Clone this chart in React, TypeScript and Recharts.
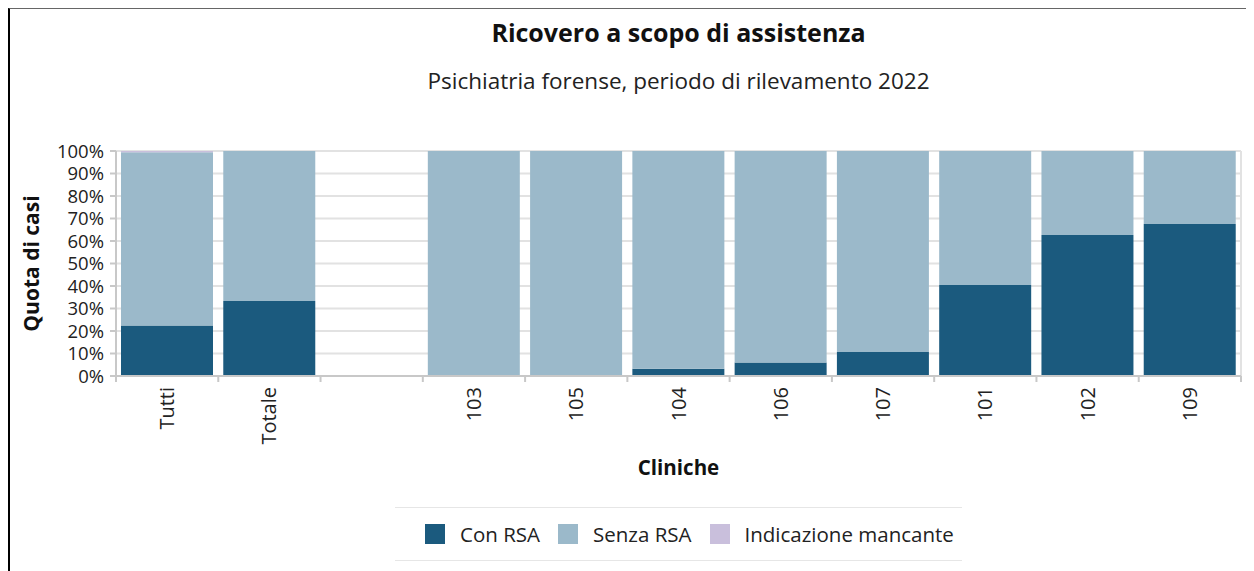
import { BarChart, Bar, XAxis, YAxis, CartesianGrid } from "recharts";

// categories as shown on the x axis (the empty one is a spacer column)
const cliniche = ["Tutti", "Totale", "", "103", "105", "104", "106", "107", "101", "102", "109"];
const conRsa = [22.5, 33.3, 0, 0, 0, 3.2, 6, 10.7, 40.4, 62.7, 67.6];
const senzaRsa = [77, 66.7, 0, 100, 100, 96.8, 94, 89.3, 59.6, 37.3, 32.4];
const mancante = [0.5, 0, 0, 0, 0, 0, 0, 0, 0, 0, 0];
const yTicks = [0, 10, 20, 30, 40, 50, 60, 70, 80, 90, 100];

const data = cliniche.map((name, i) => ({
  name,
  con: conRsa[i],
  senza: senzaRsa[i],
  mancante: mancante[i],
}));

const series = [
  { key: "con", label: "Con RSA", color: "#1b5a7e" },
  { key: "senza", label: "Senza RSA", color: "#9bb9ca" },
  { key: "mancante", label: "Indicazione mancante", color: "#c9bfdc" },
];

const FONT = "'Open Sans', 'Noto Sans', sans-serif";
const CHART_W = 1243;
const CHART_H = 553;
const MARGIN = { top: 142, right: 12, bottom: 76, left: 0 };
const Y_W = 106;
const plotW = CHART_W - MARGIN.left - MARGIN.right - Y_W;
const band = plotW / cliniche.length;

const ClinicTick = (props: any) => {
  const { x, y, payload, index } = props;
  const last = index === cliniche.length - 1;
  return (
    <g>
      <line x1={x - band / 2} x2={x - band / 2} y1={y - 8} y2={y - 2} stroke="#c8c8c8" strokeWidth={2} />
      {last && (
        <line x1={x + band / 2} x2={x + band / 2} y1={y - 8} y2={y - 2} stroke="#c8c8c8" strokeWidth={2} />
      )}
      <text
        x={0}
        y={0}
        transform={`translate(${x + 7},${y + 3}) rotate(-90)`}
        textAnchor="end"
        fontSize={20}
        fill="#222"
        fontFamily={FONT}
      >
        {payload.value}
      </text>
    </g>
  );
};

export default function App() {
  return (
    <div
      style={{
        position: "relative",
        width: 1243,
        height: 563,
        borderTop: "1px solid #666",
        borderLeft: "2px solid #000",
        borderRight: "1px solid #ccc",
        fontFamily: FONT,
        background: "#fff",
      }}
    >
      <div
        style={{
          position: "absolute",
          top: 6,
          left: Y_W,
          width: plotW,
          textAlign: "center",
          fontSize: 25,
          fontWeight: 700,
          color: "#111",
          whiteSpace: "nowrap",
        }}
      >
        Ricovero a scopo di assistenza
      </div>
      <div
        style={{
          position: "absolute",
          top: 56,
          left: Y_W,
          width: plotW,
          textAlign: "center",
          fontSize: 22.5,
          color: "#222",
          whiteSpace: "nowrap",
        }}
      >
        Psichiatria forense, periodo di rilevamento 2022
      </div>
      <div style={{ position: "absolute", top: 0, left: 0 }}>
        <BarChart width={CHART_W} height={CHART_H} data={data} margin={MARGIN} barCategoryGap={5}>
          <CartesianGrid
            stroke="#e2e2e2"
            strokeWidth={2}
            vertical
            verticalPoints={[CHART_W - MARGIN.right]}
          />
          <XAxis
            dataKey="name"
            interval={0}
            height={110}
            tickLine={false}
            axisLine={{ stroke: "#c8c8c8", strokeWidth: 2 }}
            tick={<ClinicTick />}
            label={{
              value: "Cliniche",
              position: "insideBottom",
              offset: 11,
              fontSize: 20.5,
              fontWeight: 700,
              fill: "#111",
              fontFamily: FONT,
            }}
          />
          <YAxis
            width={Y_W}
            domain={[0, 100]}
            ticks={yTicks}
            interval={0}
            tickFormatter={(v) => `${v}%`}
            tick={{ fontSize: 18.5, fill: "#222", fontFamily: FONT, dx: -4 }}
            tickSize={6}
            tickLine={{ stroke: "#c8c8c8", strokeWidth: 2 }}
            axisLine={{ stroke: "#c8c8c8", strokeWidth: 2 }}
            label={{
              value: "Quota di casi",
              angle: -90,
              position: "insideLeft",
              offset: 22,
              fontSize: 21,
              fontWeight: 700,
              fill: "#111",
              fontFamily: FONT,
              style: { textAnchor: "middle" },
            }}
          />
          {series.map((s) => (
            <Bar key={s.key} dataKey={s.key} stackId="a" fill={s.color} isAnimationActive={false} />
          ))}
        </BarChart>
      </div>
      <div
        style={{
          position: "absolute",
          top: 498,
          left: 385,
          width: 567,
          height: 54,
          borderTop: "1px solid #e6e6e6",
          borderBottom: "1px solid #e6e6e6",
          display: "flex",
          alignItems: "center",
          paddingLeft: 30,
          boxSizing: "border-box",
          fontSize: 20.5,
          color: "#222",
          whiteSpace: "nowrap",
        }}
      >
        {series.map((s) => (
          <div key={s.key} style={{ display: "flex", alignItems: "center", marginRight: 18, flexShrink: 0 }}>
            <span style={{ width: 20, height: 20, background: s.color, display: "inline-block", marginRight: 15 }} />
            <span>{s.label}</span>
          </div>
        ))}
      </div>
    </div>
  );
}
